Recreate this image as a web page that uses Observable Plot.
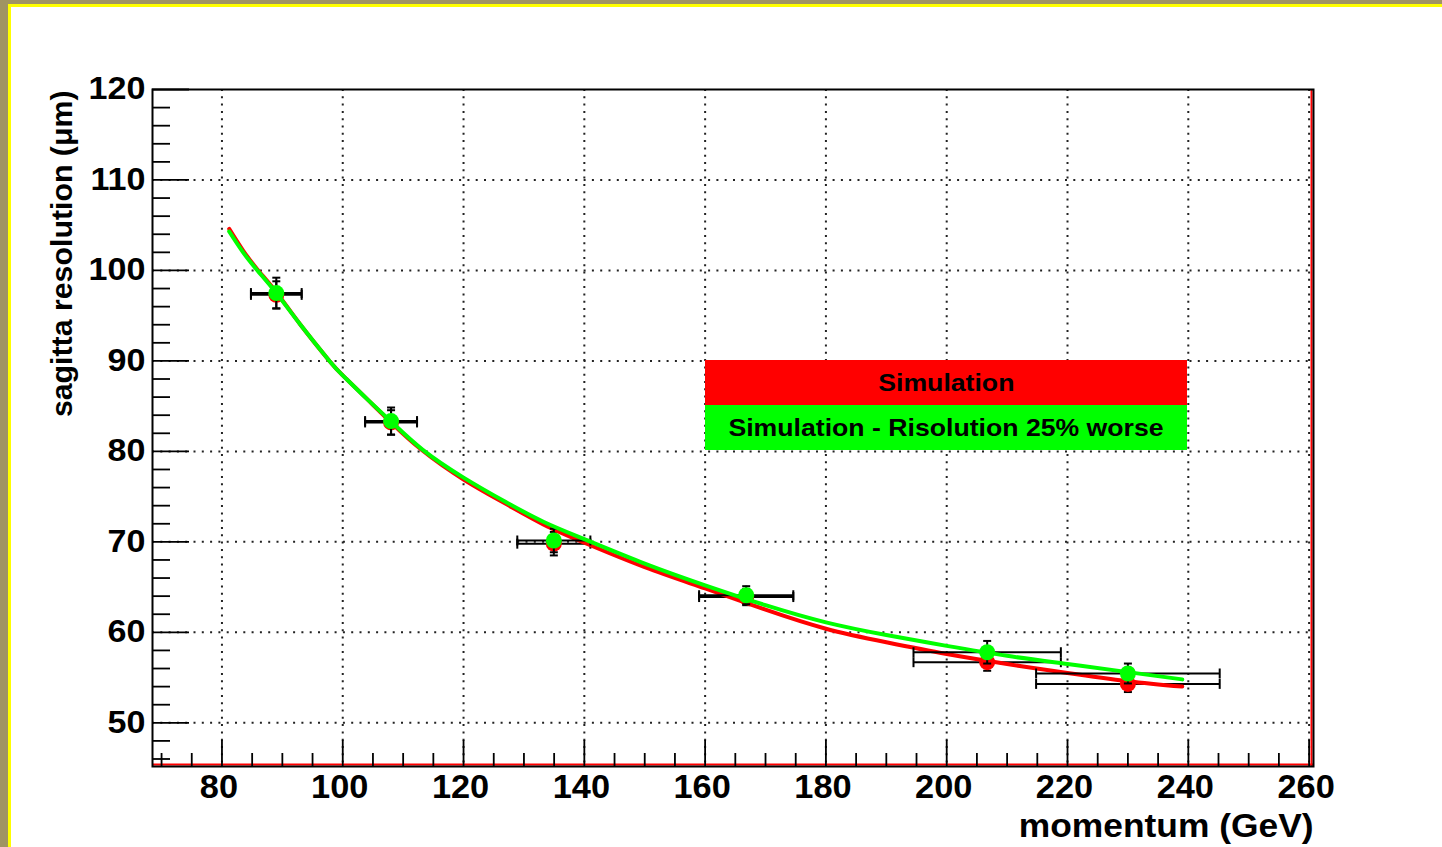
<!DOCTYPE html>
<html>
<head>
<meta charset="utf-8">
<script src="https://cdn.jsdelivr.net/npm/d3@7"></script>
<script src="https://cdn.jsdelivr.net/npm/@observablehq/plot@0.6"></script>
<style>
  html, body { margin: 0; padding: 0; background: #fff; }
  #page { position: relative; width: 1442px; height: 847px; overflow: hidden; background: #fff; font-family: "Liberation Sans", Arial, sans-serif; }
  #olive { position: absolute; left: 0; top: 0; right: 0; bottom: 0; border-left: 8px solid #a09463; border-top: 4px solid #a09463; }
  #yellow { position: absolute; left: 8px; top: 4px; right: 0; bottom: 0; border-left: 3px solid #ffff00; border-top: 3px solid #ffff00; }
  #chart { position: absolute; left: 0; top: 0; }
  #legend { position: absolute; left: 705px; top: 360px; width: 482px; height: 90px; font-weight: bold; font-size: 24px; color: #000; }
  #legend div { height: 45px; line-height: 45px; text-align: center; }
  #legend span { display: inline-block; transform: scaleX(1.11); transform-origin: center; }
</style>
</head>
<body>
<div id="page">
  <div id="olive"></div>
  <div id="yellow"></div>
  <div id="chart"></div>
  <div id="legend">
    <div style="background:#ff0000"><span id="leg1"></span></div>
    <div style="background:#00ff00"><span id="leg2"></span></div>
  </div>
</div>
<script>
// ---- data ----
const momentum      = [89.0, 108.0, 134.95, 166.8, 206.7, 230.0];
const momentumErr   = [4.2, 4.3, 6.05, 7.8, 12.2, 15.2];
const resGreen      = [97.5, 83.35, 70.15, 64.1, 57.8, 55.45];
const resGreenErr   = [1.7, 1.5, 1.3, 1.0, 1.25, 1.1];
const resRed        = [97.3, 83.2, 69.8, 63.9, 56.7, 54.3];
const resRedErr     = [1.5, 1.35, 1.3, 0.9, 0.95, 0.9];

const curveMomentum = [81.2, 83.5, 86.0, 89.0, 93.0, 97.8, 100, 104, 108, 113.2, 120, 127, 133.3, 140, 150, 160, 170, 180, 190, 200, 210, 220, 230, 239];
const curveRed      = [104.6, 102.2, 100.0, 97.6, 94.0, 90.0, 88.4, 85.8, 83.2, 80.1, 76.9, 74.2, 71.9, 69.9, 67.2, 64.85, 62.5, 60.4, 58.9, 57.6, 56.5, 55.5, 54.6, 54.0];
const curveGreen    = [104.3, 102.0, 99.9, 97.5, 94.0, 90.0, 88.4, 85.8, 83.3, 80.2, 77.1, 74.4, 72.2, 70.3, 67.6, 65.2, 63.0, 61.1, 59.7, 58.5, 57.4, 56.5, 55.6, 54.8];

const xTicks = [80, 100, 120, 140, 160, 180, 200, 220, 240, 260];
const yTicks = [50, 60, 70, 80, 90, 100, 110, 120];
const xMinorTicks = d3.range(70, 261, 5).filter(v => v % 20 !== 0);
const yMinorTicks = d3.range(46, 120, 2).filter(v => v % 10 !== 0);

const legendLabels = ["Simulation", "Simulation - Risolution 25% worse"];
const xTitle = "momentum (GeV)";
const yTitle = "sagitta resolution (\u03bcm)";

const xDomain = [68.5, 260.73];
const yDomain = [45.17, 120];

// ---- tables ----
const greenPts = momentum.map((p, i) => ({x: p, y: resGreen[i], xlo: p - momentumErr[i], xhi: p + momentumErr[i], ylo: resGreen[i] - resGreenErr[i], yhi: resGreen[i] + resGreenErr[i]}));
const redPts = momentum.map((p, i) => ({x: p, y: resRed[i], xlo: p - momentumErr[i], xhi: p + momentumErr[i], ylo: resRed[i] - resRedErr[i], yhi: resRed[i] + resRedErr[i]}));
const curveRows = curveMomentum.map((p, i) => ({p, red: curveRed[i], green: curveGreen[i]}));

const vCap = {draw(ctx, size) { const r = Math.sqrt(size / Math.PI); ctx.moveTo(0, -r); ctx.lineTo(0, r); }};
const hCap = {draw(ctx, size) { const r = Math.sqrt(size / Math.PI); ctx.moveTo(-r, 0); ctx.lineTo(r, 0); }};

function errorMarks(pts) {
  return [
    Plot.ruleY(pts, {y: "y", x1: "xlo", x2: "xhi", stroke: "black", strokeWidth: 2}),
    Plot.ruleX(pts, {x: "x", y1: "ylo", y2: "yhi", stroke: "black", strokeWidth: 2}),
    Plot.dot(pts, {x: "xlo", y: "y", symbol: vCap, r: 5, stroke: "black", strokeWidth: 2, fill: "none"}),
    Plot.dot(pts, {x: "xhi", y: "y", symbol: vCap, r: 5, stroke: "black", strokeWidth: 2, fill: "none"}),
    Plot.dot(pts, {x: "x", y: "ylo", symbol: hCap, r: 4, stroke: "black", strokeWidth: 2, fill: "none"}),
    Plot.dot(pts, {x: "x", y: "yhi", symbol: hCap, r: 4, stroke: "black", strokeWidth: 2, fill: "none"})
  ];
}

const font = "'Liberation Sans', Arial, Helvetica, sans-serif";

const chart = Plot.plot({
  width: 1442,
  height: 847,
  marginLeft: 152,
  marginRight: 129,
  marginTop: 89,
  marginBottom: 81,
  style: {background: "transparent", fontFamily: font, overflow: "visible"},
  x: {domain: xDomain, axis: null},
  y: {domain: yDomain, axis: null},
  marks: [
    // dotted grid
    Plot.ruleX(xTicks, {stroke: "#222", strokeWidth: 2, strokeDasharray: "2,5.3"}),
    Plot.ruleY(yTicks.filter(v => v < 120), {stroke: "#222", strokeWidth: 2, strokeDasharray: "2,6.3"}),
    // red edges along bottom and right
    Plot.ruleY([yDomain[0]], {stroke: "#ff0000", strokeWidth: 2, dy: -2}),
    Plot.ruleX([xDomain[1]], {stroke: "#ff0000", strokeWidth: 2, dx: -2}),
    // ticks (inward)
    Plot.axisY(yTicks, {anchor: "left", tickSize: -37, tickFormat: () => "", strokeWidth: 1.8, label: null}),
    Plot.axisY(yMinorTicks, {anchor: "left", tickSize: -18, tickFormat: () => "", strokeWidth: 1.8, label: null}),
    Plot.axisX(xTicks, {anchor: "bottom", tickSize: -26, tickFormat: () => "", strokeWidth: 1.8, label: null}),
    Plot.axisX(xMinorTicks, {anchor: "bottom", tickSize: -13, tickFormat: () => "", strokeWidth: 1.8, label: null}),
    // tick labels
    Plot.axisY(yTicks, {anchor: "left", tickSize: 0, tickPadding: 7, fontSize: 31, fontWeight: "bold", fill: "black", label: null}),
    Plot.axisX(xTicks, {anchor: "bottom", tickSize: 0, tickPadding: 8.5, dx: -3, fontSize: 33, fontWeight: "bold", fill: "black", label: null}),
    // axis titles
    Plot.text([xTitle], {text: d => d, frameAnchor: "bottom-right", dy: 70, textAnchor: "end", lineAnchor: "bottom", fontSize: 34, fontWeight: "bold", fill: "black"}),
    Plot.text([yTitle], {text: d => d, frameAnchor: "top-left", rotate: -90, textAnchor: "end", lineAnchor: "bottom", dx: -81, dy: 1, fontSize: 30, fontWeight: "bold", fill: "black"}),
    // red series
    ...errorMarks(redPts),
    Plot.dot(redPts, {x: "x", y: "y", r: 8, fill: "#ff0000"}),
    Plot.line(curveRows, {x: "p", y: "red", stroke: "#ff0000", strokeWidth: 4, curve: "natural"}),
    // green series
    ...errorMarks(greenPts),
    Plot.dot(greenPts, {x: "x", y: "y", r: 8, fill: "#00ff00"}),
    Plot.line(curveRows, {x: "p", y: "green", stroke: "#00ff00", strokeWidth: 4, curve: "natural"}),
    // frame
    Plot.frame({stroke: "black", strokeWidth: 2})
  ]
});
document.getElementById("chart").appendChild(chart);
document.getElementById("leg1").textContent = legendLabels[0];
document.getElementById("leg2").textContent = legendLabels[1];

// the reference's glyphs are slightly wider than Liberation Sans: stretch a little
function stretch(elements, factor) {
  elements.forEach(el => {
    const w = el.getComputedTextLength();
    if (w > 0) {
      el.setAttribute("textLength", (w * factor).toFixed(1));
      el.setAttribute("lengthAdjust", "spacingAndGlyphs");
    }
  });
}
const allText = Array.from(chart.querySelectorAll("text"));
stretch(Array.from(chart.querySelectorAll('g[aria-label="y-axis tick label"] text')), 1.1);
stretch(Array.from(chart.querySelectorAll('g[aria-label="x-axis tick label"] text')), 1.04);
stretch(allText.filter(t => t.textContent === xTitle), 1.04);
stretch(allText.filter(t => t.textContent === yTitle), 1.01);
</script>
</body>
</html>
